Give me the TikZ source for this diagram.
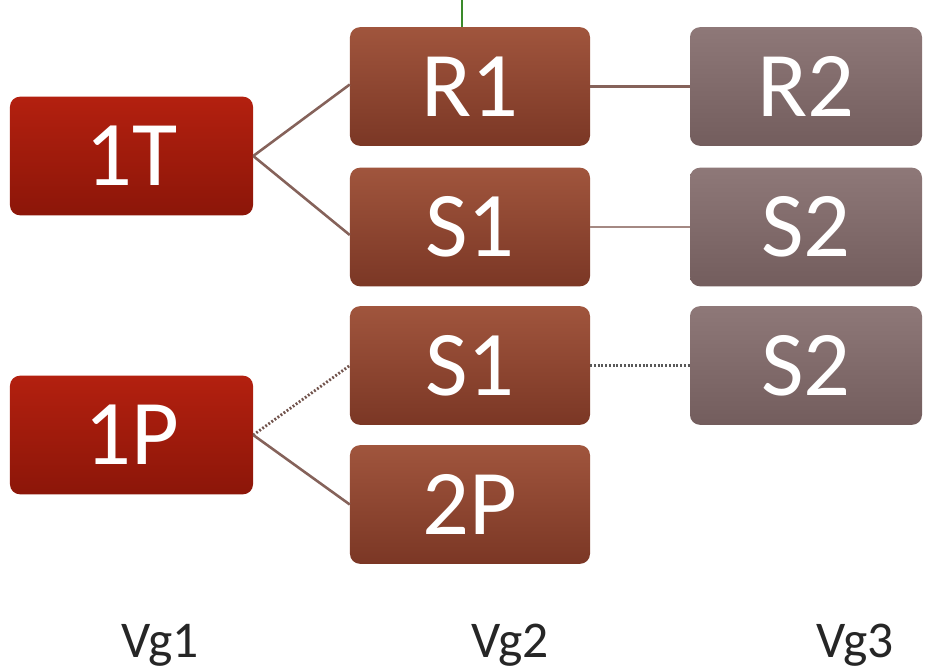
\documentclass[tikz,border=0pt]{standalone}
\usepackage{fontspec}
\setmainfont{Carlito}
\usetikzlibrary{calc,shapes}
\definecolor{rougeH}{HTML}{B3200F}
\definecolor{rougeB}{HTML}{8C1609}
\definecolor{brunH}{HTML}{A0553D}
\definecolor{brunB}{HTML}{7B3725}
\definecolor{grisH}{HTML}{8E7878}
\definecolor{grisB}{HTML}{735D5D}
\definecolor{trait}{HTML}{85625A}
\definecolor{vert}{HTML}{3A8A2A}
\tikzset{
  boite/.style={rounded corners=0.3cm,inner sep=0pt,text=white,
    font=\fontsize{79}{79}\selectfont,minimum height=3.56cm},
  niv1/.style={boite,top color=rougeH,bottom color=rougeB,minimum width=7.29cm},
  niv2/.style={boite,top color=brunH,bottom color=brunB,minimum width=7.2cm},
  niv3/.style={boite,top color=grisH,bottom color=grisB,minimum width=6.96cm},
  lien/.style={draw=trait,line width=2.2pt},
  pointille/.style={draw=trait!85!black,line width=2.4pt,dash pattern=on 1.6pt off 1.6pt},
  etiq/.style={font=\fontsize{44}{44}\selectfont,text=black!85}
}
\begin{document}
\begin{tikzpicture}[x=0.03cm,y=-0.03cm]
				\useasboundingbox (0,0) rectangle (925,671);
				% Boites
				\node [niv1] (t1) at (131.5,156) {1T};
				\node [niv1] (p1) at (131.5,435) {1P};
				\node [niv2] (r1) at (470,86.5) {R1};
				\node [niv2] (s1) at (470,227) {S1};
				\node [niv2] (s1b) at (470,365.5) {S1};
				\node [niv2] (p2) at (470,504.5) {2P};
				\node [niv3] (r2) at (806,86.5) {R2};
				\node [niv3] (s2) at (806,227) {S2};
				\node [niv3] (s2b) at (806,365.5) {S2};
				% Liens
				\draw [lien] (t1.east) -- ($(r1.west)+(0,-2)$);
				\draw [lien] (t1.east) -- ($(s1.west)+(0,8)$);
				\draw [pointille] (p1.east) -- (s1b.west);
				\draw [lien] (p1.east) -- (p2.west);
				\draw [lien] (r1.east) -- (r2.west);
				\draw [lien,draw=trait!75] (s1.east) -- (s2.west);
				\draw [pointille,draw=black!65] (s1b.east) -- (s2b.west);
				\coordinate (haut) at (462,0);
				\draw [vert,line width=1.4pt] (haut) -- (haut |- r1.north);
				% Niveaux
				\node [etiq] (vg1) at (160,645) {Vg1};
				\node [etiq] (vg2) at (510,645) {Vg2};
				\node [etiq] (vg3) at (855,645) {Vg3};
\end{tikzpicture}
\end{document}
